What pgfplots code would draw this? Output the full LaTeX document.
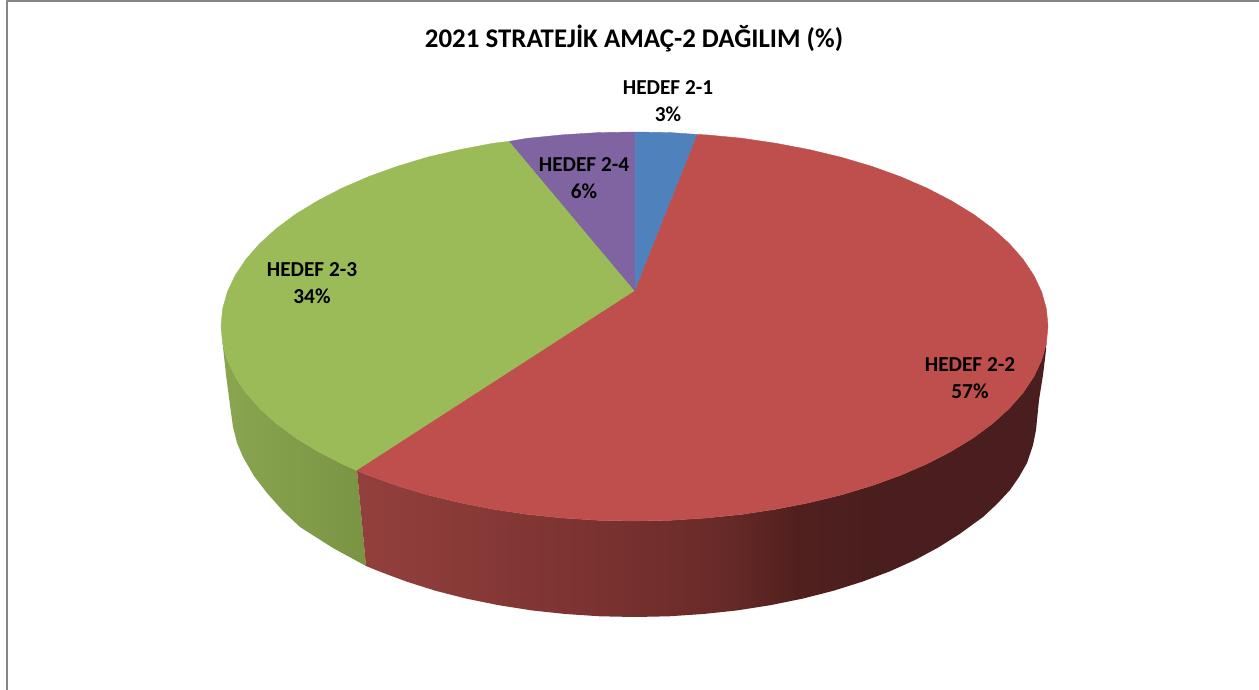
\documentclass[border=0pt]{standalone}
\usepackage{fontspec}
\setmainfont{Carlito}
\usepackage{pgfplots}
\pgfplotsset{compat=1.18}

\definecolor{pieblue}{RGB}{79,129,189}
\definecolor{piered}{RGB}{190,79,76}
\definecolor{piegreen}{RGB}{155,187,89}
\definecolor{piepurple}{RGB}{128,100,162}
\definecolor{frameline}{RGB}{134,134,134}
\definecolor{reda}{RGB}{147,64,61}
\definecolor{redb}{RGB}{122,50,48}
\definecolor{redc}{RGB}{104,42,40}
\definecolor{redd}{RGB}{80,32,30}
\definecolor{rede}{RGB}{74,30,30}
\definecolor{greena}{RGB}{138,165,80}
\definecolor{greenb}{RGB}{122,148,68}

% side shadings, 25bp..75bp is the width of the filled path
\pgfdeclarehorizontalshading{redside}{100bp}{
  color(0bp)=(reda);
  color(25bp)=(reda);
  color(42.6bp)=(redb);
  color(51.5bp)=(redc);
  color(57bp)=(redd);
  color(63bp)=(rede);
  color(100bp)=(rede)}
\pgfdeclarehorizontalshading{greenside}{100bp}{
  color(0bp)=(greena);
  color(25bp)=(greena);
  color(75bp)=(greenb);
  color(100bp)=(greenb)}

\begin{document}
\begin{tikzpicture}
\useasboundingbox (0,0) rectangle (1259pt,690pt);
\begin{axis}[
  at={(0,0)}, anchor=south west,
  scale only axis,
  width=1259pt, height=690pt,
  xmin=0, xmax=1259, ymin=0, ymax=690,
  y dir=reverse,
  hide axis,
  clip=true,
  no markers,
  every axis plot/.append style={line join=round},
]
% chart frame, only top and left are visible
\addplot[frameline, line width=2pt] coordinates {(6.5,690) (6.5,1.5) (1259,1.5)};

% green side
\addplot[draw=none, shading=greenside] coordinates {
(357,470.6) (342.1,463.9) (317.8,451.3) (295.8,437.9) (276.4,423.5) (259.7,408.4)
(245.9,392.7) (235.1,376.5) (227.3,359.9) (222.6,343)
(223,347) (226,375) (230,405) (233,427) (237,443) (243,457) (254,476) (267,493)
(283,511) (300,527) (333,548) (366,566)};

% red side
\addplot[draw=none, shading=redside] coordinates {
(357,470.6) (368.7,475.4) (397.3,485.7) (427.7,494.9) (459.8,502.7) (493.1,509.2)
(527.5,514.4) (562.7,518) (598.4,520.3) (634.5,521) (670.6,520.3) (706.3,518)
(741.5,514.4) (775.9,509.2) (809.2,502.7) (841.3,494.9) (871.7,485.7) (900.3,475.4)
(926.9,463.9) (951.2,451.3) (973.2,437.9) (992.6,423.5) (1009.3,408.4) (1023.1,392.7)
(1033.9,376.5) (1041.7,359.9) (1046.4,343)
(1046,350) (1043,375) (1039,400) (1036,430) (1033,445) (1027,463) (1019,477) (1010,490)
(997,504) (983,517) (959.7,533.9) (938.6,547.3) (915.2,559.9) (889.7,571.4)
(862.2,581.7) (833,590.9) (802.3,598.7) (770.3,605.2) (737.2,610.4) (703.4,614)
(669.1,616.3) (634.5,617) (599.9,616.3) (565.6,614) (531.8,610.4) (498.7,605.2)
(466.7,598.7) (436,590.9) (406.8,581.7) (379.3,571.4) (366,566)};

% top faces
\addplot[piegreen, fill=piegreen, line width=0.4pt] coordinates {
(635,291) (357,470.6) (342.1,463.9) (317.8,451.3) (295.8,437.9) (276.4,423.5) (259.7,408.4)
(245.9,392.7) (235.1,376.5) (227.3,359.9) (222.6,343) (221,326) (222.6,309) (227.3,292.1)
(235.1,275.5) (245.9,259.3) (259.7,243.6) (276.4,228.5) (295.8,214.1) (317.8,200.7)
(342.1,188.1) (368.7,176.6) (397.3,166.3) (427.7,157.1) (459.8,149.6) (493.1,143.3)
(509.5,141.3) (635,291)};
\addplot[piepurple, fill=piepurple, line width=0.4pt] coordinates {
(635,291) (509.5,141.3) (527.5,138.3) (562.7,134.8) (598.4,132.6) (635,132) (635,291)};
\addplot[pieblue, fill=pieblue, line width=0.4pt] coordinates {
(635,291) (635,132) (670.6,132.6) (697.5,134.5) (635,291)};
\addplot[piered, fill=piered, line width=0.4pt] coordinates {
(635,291) (697.5,134.5) (706.3,134.9) (741.5,138.2) (775.9,143.3) (809.2,149.6) (841.3,157.3)
(871.7,166.3) (900.3,176.6) (926.9,188.1) (951.2,200.7) (973.2,214.1) (992.6,228.5)
(1009.3,243.6) (1023.1,259.3) (1033.9,275.5) (1041.7,292.1) (1046.4,309) (1048,326)
(1046.4,343) (1041.7,359.9) (1033.9,376.5) (1023.1,392.7) (1009.3,408.4) (992.6,423.5)
(973.2,437.9) (951.2,451.3) (926.9,463.9) (900.3,475.4) (871.7,485.7) (841.3,494.9)
(809.2,502.7) (775.9,509.2) (741.5,514.4) (706.3,518) (670.6,520.3) (634.5,521)
(598.4,520.3) (562.7,518) (527.5,514.4) (493.1,509.2) (459.8,502.7) (427.7,494.9)
(397.3,485.7) (368.7,475.4) (357,470.6) (635,291)};

\node[font=\fontsize{26.9}{32}\selectfont\bfseries] at (axis cs:634,39) {2021 STRATEJİK AMAÇ-2 DAĞILIM (\%)};
\tikzset{lab/.style={align=center, inner sep=0pt, font=\fontsize{21.3}{26.5}\selectfont\bfseries}}
\node[lab] at (axis cs:668,101) {HEDEF 2-1\\3\%};
\node[lab] at (axis cs:584,178) {HEDEF 2-4\\6\%};
\node[lab] at (axis cs:312,283) {HEDEF 2-3\\34\%};
\node[lab] at (axis cs:970,378) {HEDEF 2-2\\57\%};
\end{axis}
\end{tikzpicture}
\end{document}
